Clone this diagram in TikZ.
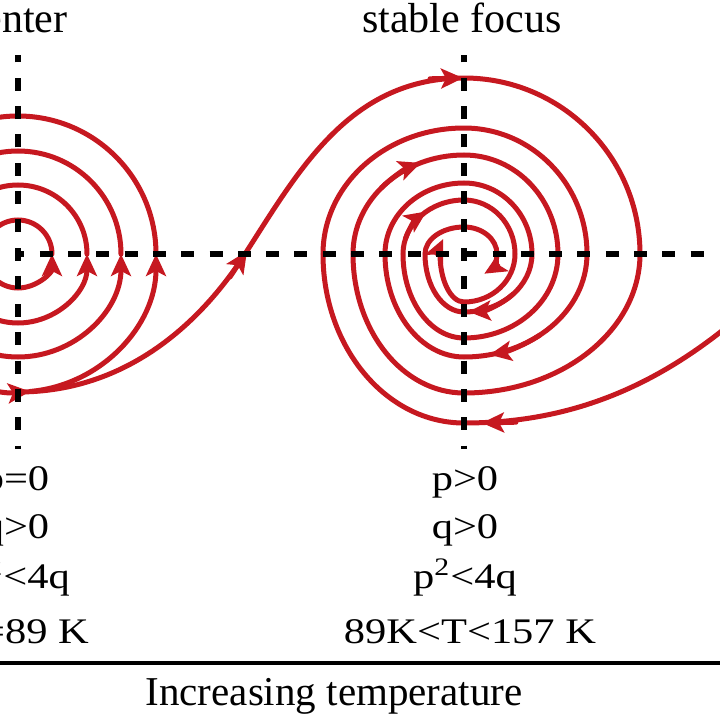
\documentclass[tikz,border=0pt]{standalone}
\usepackage{fontspec}
\setmainfont{Liberation Serif}
\newfontfamily\condfont[FakeStretch=1.18]{Liberation Serif}
\usetikzlibrary{arrows.meta,calc}
\definecolor{trajred}{RGB}{198,24,32}
\begin{document}
\begin{tikzpicture}[x=0.5pt,y=0.5pt,
  traj/.style={draw=trajred,line width=2.5pt,line cap=round},
  tip/.style={-{Stealth[length=11pt,width=10pt,inset=2.5pt]}},
  axisline/.style={draw=black,line width=3pt,dash pattern=on 6.5pt off 7.65pt,dash phase=3.25pt},
  toplbl/.style={anchor=base,font=\fontsize{21}{25}\selectfont,inner sep=0pt},
  condlbl/.style={anchor=base,font=\condfont\fontsize{18}{22}\selectfont,inner sep=0pt},
]
\useasboundingbox (0,0) rectangle (720,720);
\clip (0,0) rectangle (720,720);
\coordinate (c1) at (18,466);
\coordinate (c2) at (464,466);

% ---- left: center (closed orbits) ----
\foreach \r in {34,69,103}
  \draw[traj,tip] (18+\r,466) arc[start angle=0,end angle=360,radius=\r];
\draw[traj,tip] (156,466) arc[start angle=0,end angle=275,radius=138];
\draw[traj,tip] ($(c1)+(275:138)$) arc[start angle=275,end angle=360,radius=138];

% ---- trajectory A: from the center orbit into the stable focus ----
\draw[traj] (18,328) .. controls (128,328) and (202,399) .. (245,466)
  .. controls (299,550) and (350,642) .. (464,642)
  arc[start angle=90,end angle=0,x radius=176,y radius=176]
  arc[start angle=0,end angle=-90,x radius=176,y radius=139]
  arc[start angle=-90,end angle=-180,x radius=111,y radius=139]
  arc[start angle=-180,end angle=-270,x radius=111,y radius=99]
  arc[start angle=90,end angle=0,x radius=94,y radius=99]
  arc[start angle=0,end angle=-90,x radius=94,y radius=84]
  arc[start angle=-90,end angle=-180,x radius=61,y radius=84]
  arc[start angle=-180,end angle=-270,x radius=61,y radius=54]
  arc[start angle=90,end angle=0,x radius=51,y radius=54]
  arc[start angle=0,end angle=-90,x radius=51,y radius=48]
  arc[start angle=-90,end angle=-180,x radius=24,y radius=48];
\draw[traj,tip] (440,466) arc[start angle=-180,end angle=-210,x radius=24,y radius=30];
\draw[traj,tip] (230,443) -- (247,469);
\draw[traj,tip] (430,641.2) -- (463,642);
\draw[traj,tip] ($(c2)+(-222:111 and 99)$) arc[start angle=-222,end angle=-247,x radius=111,y radius=99];
\draw[traj,tip] ($(c2)+(-196:61 and 54)$) arc[start angle=-196,end angle=-232,x radius=61,y radius=54];

% ---- trajectory B: entering from the right ----
\draw[traj] (740,404) .. controls (649,326) and (560,297) .. (464,297)
  arc[start angle=-90,end angle=-180,x radius=141,y radius=169]
  arc[start angle=-180,end angle=-270,x radius=141,y radius=126]
  arc[start angle=90,end angle=0,x radius=123,y radius=126]
  arc[start angle=0,end angle=-90,x radius=123,y radius=103]
  arc[start angle=-90,end angle=-180,x radius=79,y radius=103]
  arc[start angle=-180,end angle=-270,x radius=79,y radius=71]
  arc[start angle=90,end angle=0,x radius=68,y radius=71]
  arc[start angle=0,end angle=-90,x radius=68,y radius=58]
  arc[start angle=-90,end angle=-180,x radius=39,y radius=58]
  arc[start angle=-180,end angle=-270,x radius=39,y radius=27]
  arc[start angle=90,end angle=0,x radius=33,y radius=27];
\draw[traj,tip] (497,466) arc[start angle=0,end angle=-52,x radius=33,y radius=25];
\draw[traj,tip] (516,297.8) -- (482,297);
\draw[traj,tip] ($(c2)+(-52:123 and 103)$) arc[start angle=-52,end angle=-78,x radius=123,y radius=103];
\draw[traj,tip] ($(c2)+(-44:68 and 58)$) arc[start angle=-44,end angle=-86,x radius=68,y radius=58];

% ---- axes ----
\draw[axisline] (c1) -- (18,665);
\draw[axisline] (c1) -- (18,271);
\draw[axisline] (c1) -- (708,466);
\draw[axisline] (c2) -- (464,665);
\draw[axisline] (c2) -- (464,271);

% ---- labels ----
\node[toplbl] (tcenter) at (16,688) {center};
\node[toplbl] (tfocus) at (462,688) {stable focus};

\node[condlbl] (l1) at (16,229) {p=0};
\node[condlbl] (l2) at (16,182) {q>0};
\node[condlbl] (l3) at (18,132) {p\textsuperscript{2}<4q};
\node[condlbl] (l4) at (22,76) {T=89 K};

\node[condlbl] (r1) at (465,229) {p>0};
\node[condlbl] (r2) at (465,182) {q>0};
\node[condlbl] (r3) at (465,132) {p\textsuperscript{2}<4q};
\node[condlbl] (r4) at (470,76) {89K<T<157 K};

\draw[line width=2.2pt] (-10,57) -- (730,57);
\node[anchor=base,font=\fontsize{20.5}{24}\selectfont,inner sep=0pt] (inc) at (334,15) {Increasing temperature};
\end{tikzpicture}
\end{document}
